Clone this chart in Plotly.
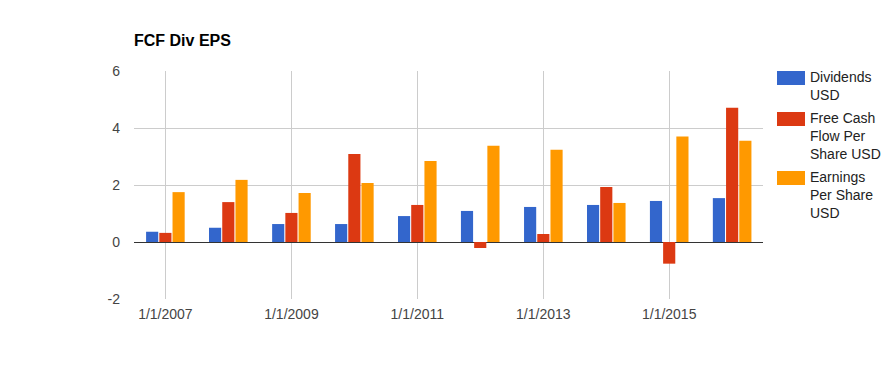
import plotly.graph_objects as go

years = ["2007-01-01", "2008-01-01", "2009-01-01", "2010-01-01", "2011-01-01",
         "2012-01-01", "2013-01-01", "2014-01-01", "2015-01-01", "2016-01-01"]
dividends = [0.36, 0.50, 0.63, 0.63, 0.91, 1.09, 1.23, 1.30, 1.44, 1.54]
fcf = [0.32, 1.40, 1.02, 3.09, 1.30, -0.21, 0.28, 1.93, -0.76, 4.71]
eps = [1.75, 2.18, 1.72, 2.07, 2.84, 3.38, 3.24, 1.37, 3.70, 3.55]

series_names = ["Dividends<br>USD", "Free Cash<br>Flow Per<br>Share USD", "Earnings<br>Per Share<br>USD"]
colors = ["#3366cc", "#dc3912", "#ff9900"]

tick_vals = ["2007-01-01", "2009-01-01", "2011-01-01", "2013-01-01", "2015-01-01"]
tick_text = ["1/1/2007", "1/1/2009", "1/1/2011", "1/1/2013", "1/1/2015"]
y_ticks = [-2, 0, 2, 4, 6]

FONT = "Liberation Sans, Arial, sans-serif"

fig = go.Figure()
for name, vals, col in zip(series_names, [dividends, fcf, eps], colors):
    fig.add_trace(go.Bar(x=years, y=vals, name=name.replace("<br>", " "),
                         marker=dict(color=col, line=dict(width=0)), showlegend=False))

fig.update_layout(
    width=896, height=371,
    margin=dict(l=134, r=133, t=71, b=72),
    paper_bgcolor="white", plot_bgcolor="white",
    barmode="group", bargap=0.37, bargroupgap=0.08,
    font=dict(family=FONT, size=14, color="#444"),
    title=dict(text="<b>FCF Div EPS</b>", x=134/896, xanchor="left",
               y=1 - 40/371, yanchor="middle",
               font=dict(family=FONT, size=16, color="#000")),
    xaxis=dict(type="date", range=["2006-07-03", "2016-06-28"],
               tickvals=tick_vals, ticktext=tick_text,
               showgrid=True, gridcolor="#cccccc", gridwidth=1,
               zeroline=False, showline=False, ticks="",
               ticklabelstandoff=5, tickfont=dict(size=14, color="#444")),
    yaxis=dict(range=[-2, 6], tickvals=y_ticks, ticktext=[str(v) for v in y_ticks],
               showgrid=True, gridcolor="#cccccc", gridwidth=1,
               zeroline=True, zerolinecolor="#333333", zerolinewidth=1,
               showline=False, ticks="", ticklabelstandoff=13,
               tickfont=dict(size=14, color="#444")),
)

# manual legend (Google-charts style swatches with wrapped text)
legend_tops = [71, 112, 171]
for name, col, top in zip(series_names, colors, legend_tops):
    fig.add_shape(type="rect", xref="paper", yref="paper",
                  x0=(777 - 134) / 629, x1=(805 - 134) / 629,
                  y0=(299 - top - 14) / 228, y1=(299 - top) / 228,
                  fillcolor=col, line=dict(width=0))
    fig.add_annotation(xref="paper", yref="paper",
                       x=(808 - 134) / 629, y=(299 - top + 4) / 228,
                       xanchor="left", yanchor="top", align="left",
                       text=name, showarrow=False,
                       font=dict(family=FONT, size=14, color="#222"))

fig.write_html("out.html")
